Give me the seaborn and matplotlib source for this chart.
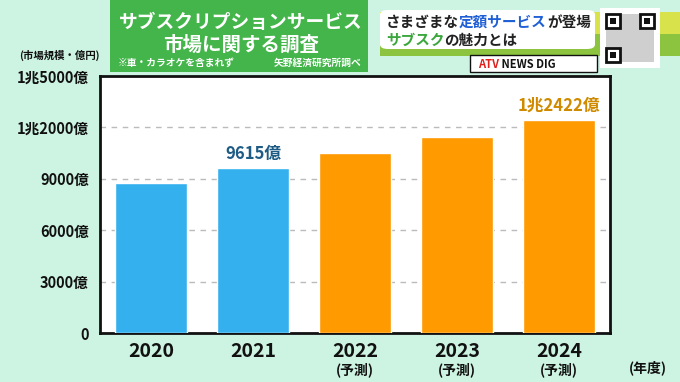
import numpy as np
import pandas as pd
import matplotlib
matplotlib.use("Agg")
import matplotlib.pyplot as plt
from matplotlib.patches import Rectangle, FancyBboxPatch
from matplotlib.text import Annotation
import seaborn as sns

# data (億円)
years = ["2020", "2021", "2022", "2023", "2024"]
sub_labels = ["", "", "(予測)", "(予測)", "(予測)"]
market = [8730, 9615, 10520, 11460, 12422]
bar_colors = ["#35b0ee", "#35b0ee", "#ff9a00", "#ff9a00", "#ff9a00"]
yticks = [0, 3000, 6000, 9000, 12000, 15000]
ytick_labels = ["0", "3000億", "6000億", "9000億", "1兆2000億", "1兆5000億"]
value_labels = {1: ("9615億", "#1e5b85"), 4: ("1兆2422億", "#cf8a00")}

sns.set_theme(style="white")
plt.rcParams["font.family"] = ["Noto Sans CJK JP", "DejaVu Sans"]
plt.rcParams["font.weight"] = "bold"

W, H = 680, 382
fig = plt.figure(figsize=(W / 100, H / 100), dpi=100, facecolor="#cdf3e2")


def px_rect(x, y, w, h, **kw):
    # rectangle in pixel coords measured from top-left
    r = Rectangle((x / W, 1 - (y + h) / H), w / W, h / H,
                  transform=fig.transFigure, **kw)
    fig.add_artist(r)
    return r


def px_text(x, y, s, **kw):
    return fig.text(x / W, 1 - y / H, s, **kw)


def chain(x, y, parts, size, **kw):
    # several coloured pieces of text on one line
    prev = px_text(x, y, parts[0][0], ha="left", va="center", fontsize=size,
                   color=parts[0][1], **kw)
    for s, c in parts[1:]:
        prev = fig.add_artist(Annotation(s, xy=(1, 0.5), xycoords=prev, va="center",
                                         ha="left", fontsize=size, color=c,
                                         fontweight="bold", **kw))


# plot area
ax = fig.add_axes([100 / W, 1 - 333 / H, 510 / W, (333 - 76) / H])
ax.set_facecolor("white")
df = pd.DataFrame({"year": years, "value": market})
sns.barplot(data=df, x="year", y="value", hue="year", palette=bar_colors,
            legend=False, width=0.71, saturation=1, ax=ax, zorder=3)
ax.set_xlim(-0.5, 4.5)
ax.set_ylim(0, 15000)
ax.set_yticks(yticks)
ax.set_yticklabels(ytick_labels, fontsize=10.5, fontweight="bold", color="#111111")
ax.set_xticks(range(len(years)))
ax.set_xticklabels([])
ax.set_xticks(np.arange(0.5, 4.5, 1), minor=True)
ax.tick_params(axis="x", which="major", length=0)
ax.tick_params(axis="x", which="minor", direction="in", length=6, width=1.5, color="#111111")
ax.tick_params(axis="y", length=0, pad=8)
ax.set_xlabel("")
ax.set_ylabel("")
for yv in yticks[1:-1]:
    ax.axhline(yv, color="#bbbbbb", lw=1, ls=(0, (4, 4)), zorder=1)
for sp in ax.spines.values():
    sp.set_color("#111111")
    sp.set_linewidth(2)

for i, (yr, sub) in enumerate(zip(years, sub_labels)):
    ax.text(i, -0.035, yr, transform=ax.get_xaxis_transform(), ha="center", va="top",
            fontsize=14, fontweight="bold", color="#111111")
    if sub:
        ax.text(i, -0.115, sub, transform=ax.get_xaxis_transform(), ha="center", va="top",
                fontsize=10, fontweight="bold", color="#111111")
for i, (lab, col) in value_labels.items():
    ax.text(i, market[i] + 300, lab, ha="center", va="bottom", fontsize=12,
            fontweight="bold", color=col)

px_text(648, 368, "(年度)", ha="center", va="center", fontsize=10, color="#111111")
px_text(59, 55, "(市場規模・億円)", ha="center", va="center", fontsize=7.5, color="#111111")

# title box
px_rect(110, 0, 258, 72, facecolor="#43b54a", edgecolor="none")
px_text(241, 22, "サブスクリプションサービス", ha="center", va="center",
        fontsize=13.5, color="white")
px_text(241, 45, "市場に関する調査", ha="center", va="center", fontsize=14, color="white")
px_text(118, 63, "※車・カラオケを含まれず", ha="left", va="center", fontsize=7, color="white")
px_text(362, 63, "矢野経済研究所調べ", ha="right", va="center", fontsize=7, color="white")

# top-right headline
px_rect(380, 12, 300, 22, facecolor="#d8e34c", edgecolor="none")
px_rect(380, 34, 300, 22, facecolor="#8cc43f", edgecolor="none")
box = FancyBboxPatch((380 / W, 1 - 49 / H), 215 / W, 39 / H,
                     boxstyle="round,pad=0,rounding_size=0.012",
                     transform=fig.transFigure, facecolor="white", edgecolor="none")
fig.add_artist(box)
chain(386, 22, [("さまざまな", "#222222"), ("定額サービス", "#1f5fd6"), ("が登場", "#222222")], 10.5)
chain(386, 40, [("サブスク", "#3aa63c"), ("の魅力とは", "#222222")], 10.5)

# news tag
px_rect(470, 55, 127, 17, facecolor="white", edgecolor="#111111", lw=1)
chain(478, 64, [("ATV", "#e0201b"), (" NEWS DIG", "#111111")], 8, fontstyle="italic")

# QR placeholder
px_rect(600, 8, 60, 60, facecolor="white", edgecolor="none")
px_rect(606, 14, 48, 48, facecolor="#cfcfcf", edgecolor="none")
for qx, qy in [(606, 14), (640, 14), (606, 48)]:
    px_rect(qx, qy, 14, 14, facecolor="white", edgecolor="#111111", lw=2)
    px_rect(qx + 4, qy + 4, 6, 6, facecolor="#111111", edgecolor="none")

fig.savefig("out.png", dpi=100, facecolor=fig.get_facecolor())
